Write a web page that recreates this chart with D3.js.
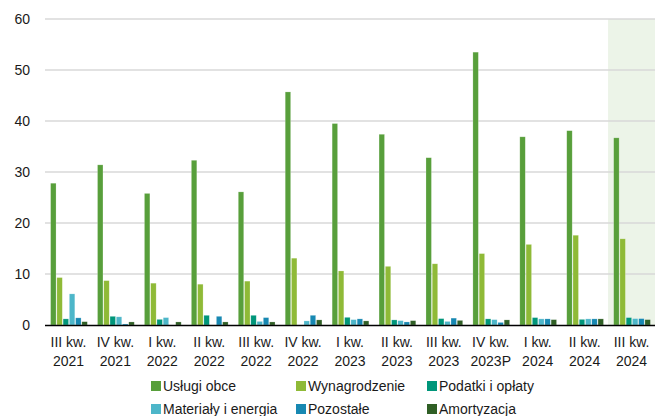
<!DOCTYPE html>
<html><head><meta charset="utf-8">
<script src="https://cdn.jsdelivr.net/npm/d3@7"></script>
<style>body{margin:0;background:#fff}svg{display:block;font-family:"Liberation Sans",Arial,sans-serif}</style>
</head><body>
<svg id="c" width="655" height="416"></svg>
<script>
const categories = [["III kw.","2021"],["IV kw.","2021"],["I kw.","2022"],["II kw.","2022"],["III kw.","2022"],["IV kw.","2022"],["I kw.","2023"],["II kw.","2023"],["III kw.","2023"],["IV kw.","2023P"],["I kw.","2024"],["II kw.","2024"],["III kw.","2024"]];
const seriesNames = ["Usługi obce","Wynagrodzenie","Podatki i opłaty","Materiały i energia","Pozostałe","Amortyzacja"];
const seriesColors = ["#589f3b","#8fba37","#00967a","#4db6c9","#1788b2","#2f5f25"];
const uslugiObce    = [27.8,31.4,25.8,32.3,26.1,45.7,39.5,37.4,32.8,53.5,36.9,38.1,36.7];
const wynagrodzenie = [9.3,8.7,8.2,8.0,8.6,13.1,10.6,11.5,12.0,14.0,15.8,17.6,16.9];
const podatki       = [1.2,1.7,1.1,1.9,1.9,0,1.5,1.0,1.25,1.2,1.45,1.1,1.45];
const materialy     = [6.1,1.6,1.45,0,0.7,0.8,1.05,0.85,0.7,1.05,1.2,1.2,1.25];
const pozostale     = [1.4,0.2,0,1.7,1.45,1.9,1.2,0.6,1.35,0.5,1.2,1.2,1.25];
const amortyzacja   = [0.65,0.6,0.6,0.6,0.6,1.0,0.8,0.85,0.9,1.0,1.05,1.2,1.05];
const yTicks = [0,10,20,30,40,50,60];
const highlighted = 12;

(function(){
const values = [uslugiObce,wynagrodzenie,podatki,materialy,pozostale,amortyzacja];
const svg = d3.select("#c");
const mLeft = 45, mRight = 655, mTop = 19, mBottom = 325;
const keys = categories.map((d,i)=>i);
const x0 = d3.scaleBand().domain(keys).range([mLeft,mRight]).padding(0);
const x1 = d3.scaleBand().domain(seriesNames).range([5.6, x0.bandwidth()-4.6]).paddingInner(0.13);
const y = d3.scaleLinear().domain([0,60]).range([mBottom,mTop]);

svg.append("rect").attr("x",x0(highlighted)).attr("y",y(60)).attr("width",mRight-x0(highlighted)).attr("height",y(0)-y(60)).attr("fill","#ecf4e8");

svg.append("g").selectAll("line").data(yTicks.filter(t=>t>0)).join("line")
  .attr("x1",mLeft).attr("x2",mRight).attr("y1",d=>y(d)).attr("y2",d=>y(d))
  .attr("stroke","#d9d9d9").attr("stroke-width",1.3);

const yAxis = d3.axisLeft(y).tickValues(yTicks).tickSize(0).tickPadding(0);
const ya = svg.append("g").attr("transform","translate(30,0)").call(yAxis);
ya.select(".domain").remove();
ya.selectAll("text").attr("font-size",14).attr("fill","#1a1a1a").attr("font-family","Liberation Sans, Arial, sans-serif").attr("dy","0.35em");

const g = svg.append("g");
keys.forEach(i=>{
  seriesNames.forEach((s,j)=>{
    const v = values[j][i];
    if(v<=0) return;
    g.append("rect").attr("x",x0(i)+x1(s)).attr("width",x1.bandwidth())
      .attr("y",y(v)).attr("height",y(0)-y(v)).attr("fill",seriesColors[j])
      .attr("stroke","#ffffff").attr("stroke-opacity",0.35).attr("stroke-width",0.6);
  });
});

svg.append("line").attr("x1",mLeft).attr("x2",mRight).attr("y1",y(0)+0.5).attr("y2",y(0)+0.5).attr("stroke","#000").attr("stroke-width",1.5);
const xa = svg.append("g");
keys.forEach(i=>{
  const cx = x0(i)+x0.bandwidth()/2;
  const t = xa.append("text").attr("text-anchor","middle").attr("font-size",14).attr("fill","#1a1a1a");
  t.append("tspan").attr("x",cx).attr("y",347).text(categories[i][0]);
  t.append("tspan").attr("x",cx).attr("y",365.5).text(categories[i][1]);
});

const legX = [151,296,427], legY = [386.5,409.5];
seriesNames.forEach((s,j)=>{
  const lx = legX[j%3], ly = legY[Math.floor(j/3)];
  svg.append("rect").attr("x",lx).attr("y",ly-5.5).attr("width",10).attr("height",10).attr("fill",seriesColors[j]);
  svg.append("text").attr("x",lx+12).attr("y",ly).attr("dy","0.35em").attr("font-size",14).attr("fill","#1a1a1a").text(s);
});
})();
</script>
</body></html>
